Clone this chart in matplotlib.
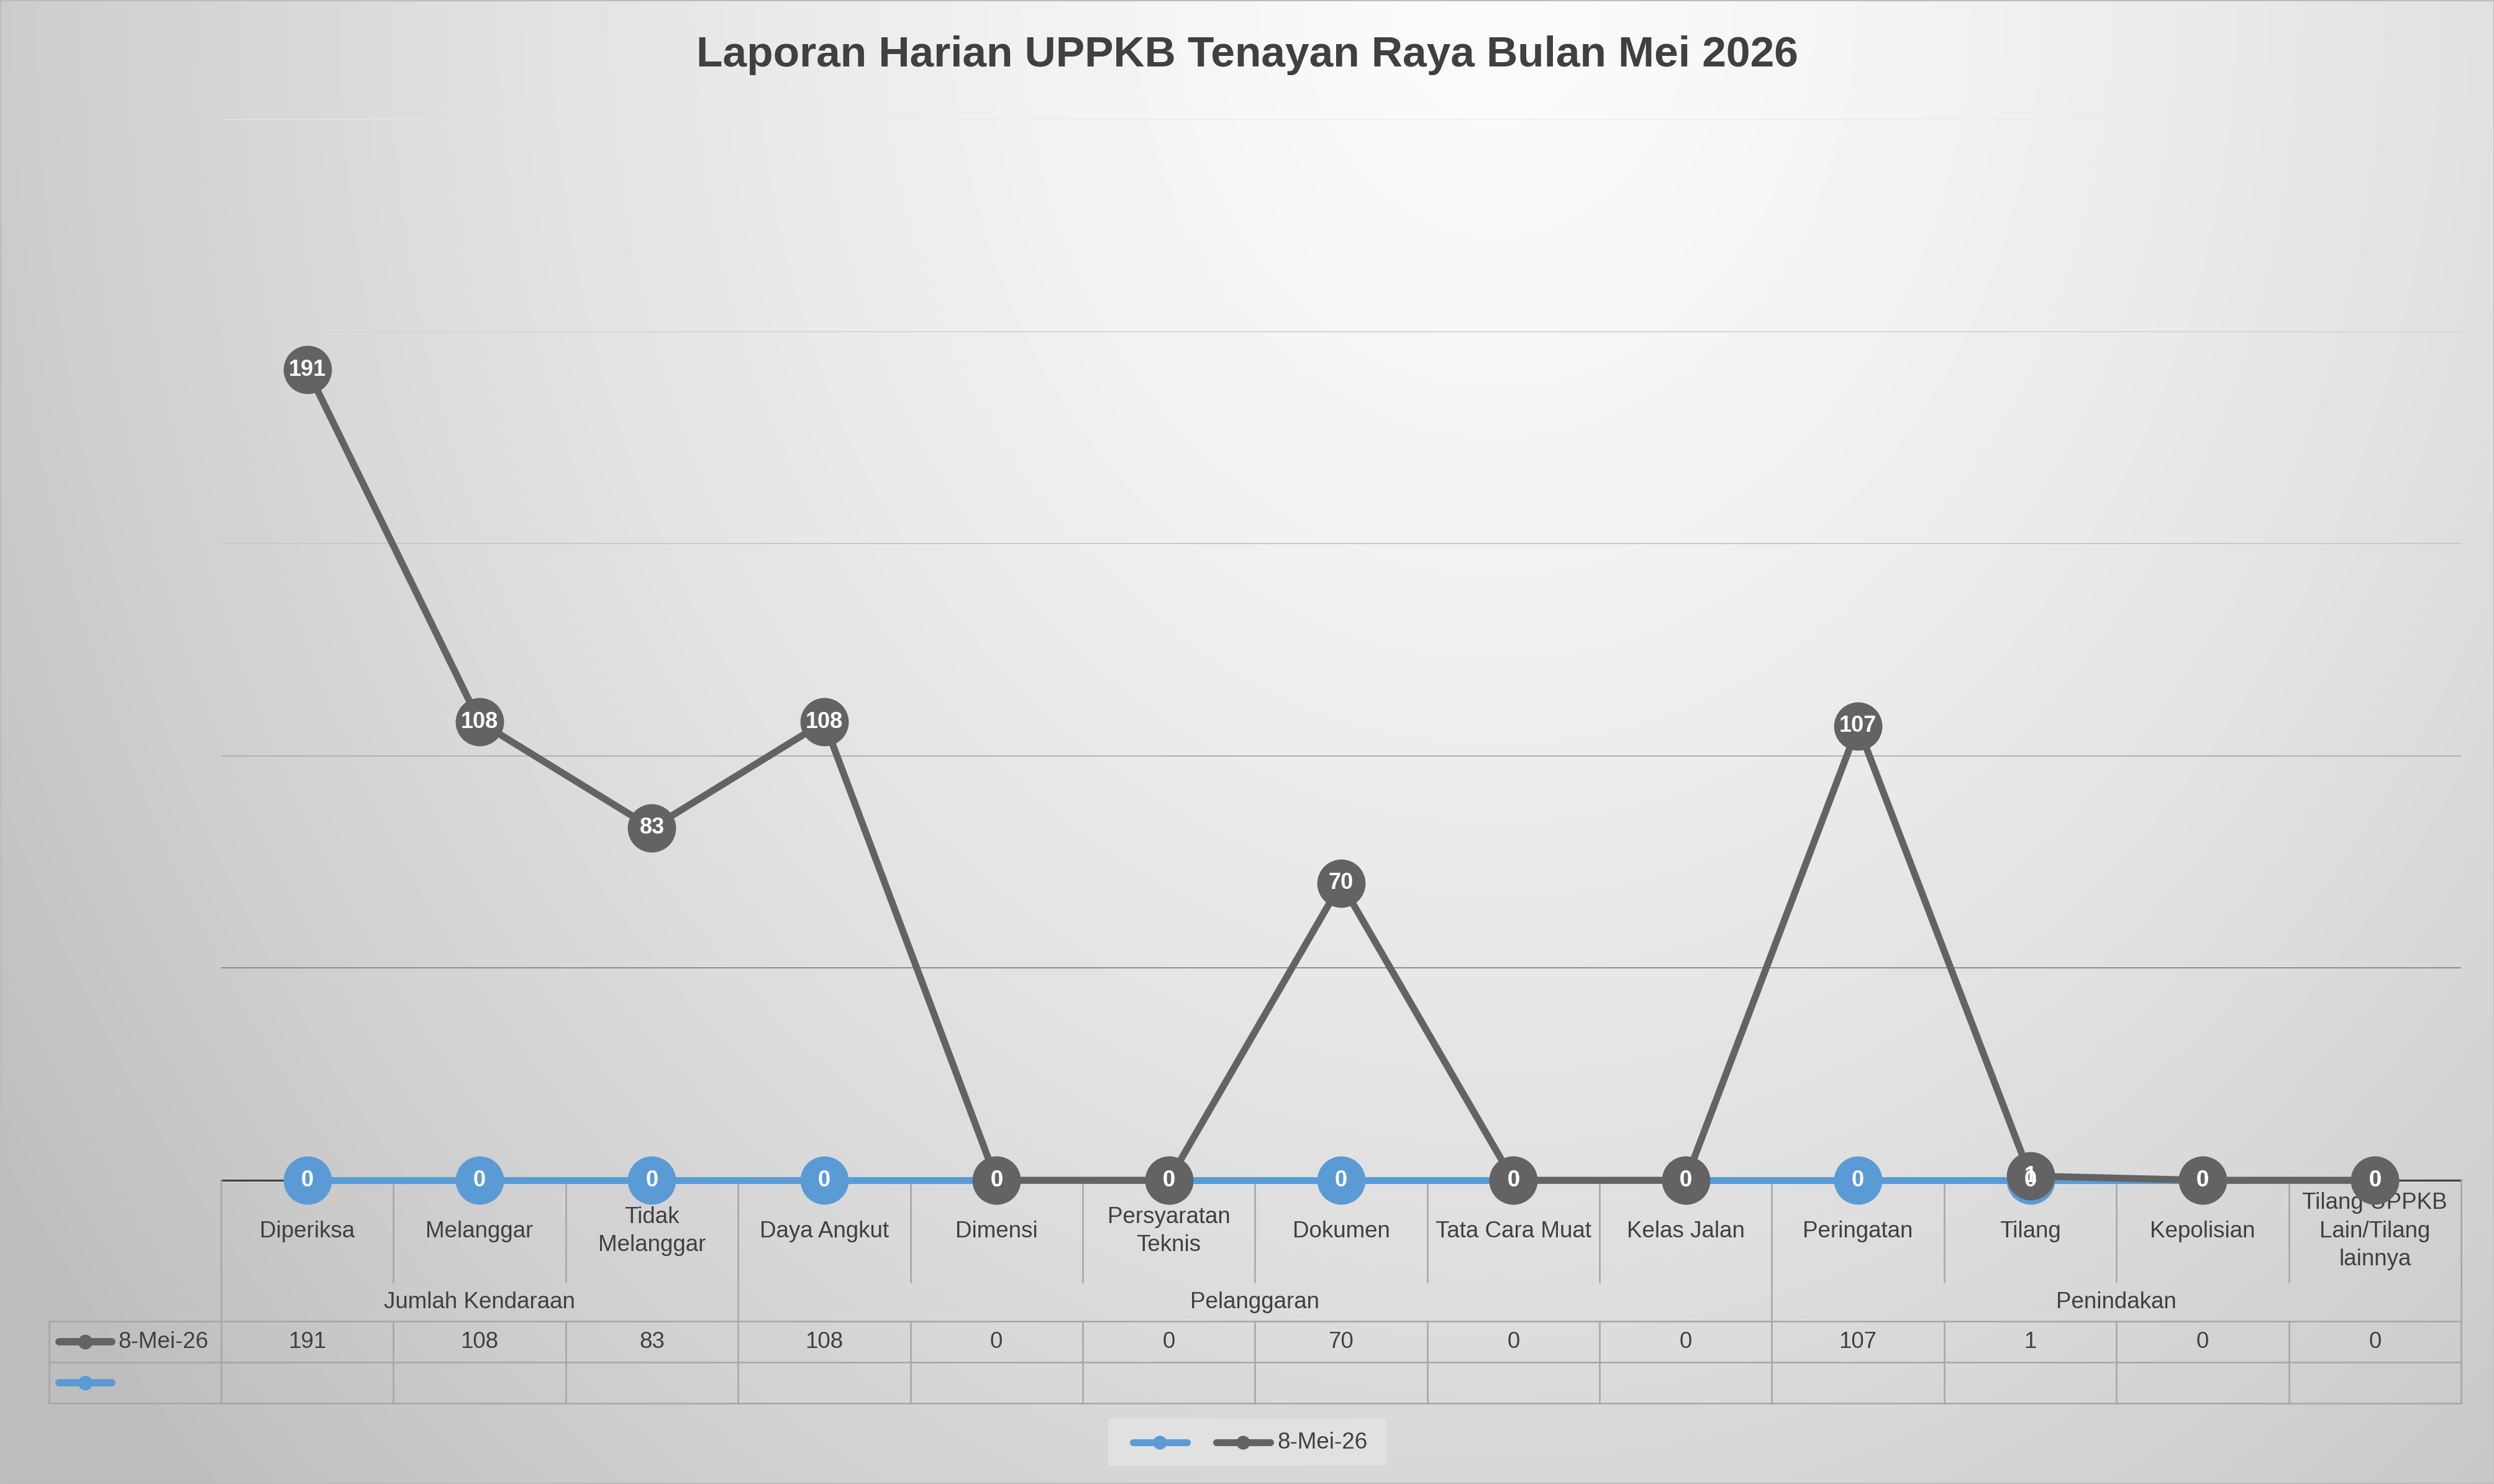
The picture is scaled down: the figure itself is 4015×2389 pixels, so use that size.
import numpy as np
import matplotlib
matplotlib.use("Agg")
import matplotlib.pyplot as plt
from matplotlib.transforms import blended_transform_factory
from matplotlib.lines import Line2D
from matplotlib.patches import Rectangle

# ---------------- data ----------------
title = "Laporan Harian UPPKB Tenayan Raya Bulan Mei 2026"
categories = ["Diperiksa", "Melanggar", "Tidak\nMelanggar", "Daya Angkut", "Dimensi",
              "Persyaratan\nTeknis", "Dokumen", "Tata Cara Muat", "Kelas Jalan",
              "Peringatan", "Tilang", "Kepolisian", "Tilang UPPKB\nLain/Tilang\nlainnya"]
groups = ["Jumlah Kendaraan", "Pelanggaran", "Penindakan"]
group_sizes = [3, 6, 4]
series_name = "8-Mei-26"
series_values = [191, 108, 83, 108, 0, 0, 70, 0, 0, 107, 1, 0, 0]
blank_series_name = ""
blank_series_values = [None, None, None, None, None, None, None, None, None, None, None, None, None]
y_ticks = [0, 50, 100, 150, 200, 250]

# ---------------- style ----------------
W, H = 4016, 2389
GREY = "#636363"
BLUE = "#5B9BD5"
TXT = "#404040"
TABLE = "#a6a6a6"
FONT = "Liberation Sans"
plt.rcParams["font.family"] = [FONT, "DejaVu Sans"]

def fx(p):
    return p / W

def fy(p):
    return 1 - p / H

fig = plt.figure(figsize=(W / 100, H / 100), dpi=100)

# background gradient
bg = fig.add_axes([0, 0, 1, 1], zorder=-10)
yy, xx = np.mgrid[0:1:240j, 0:1:402j]
dx = (xx - 0.6) * W / 2400.0
dy = yy * H / 2900.0
t = np.sqrt(dx ** 2 + dy ** 2)
val = 252 - 28 * t - 20 * t ** 2
val = np.clip(val, 190, 255) / 255.0
bg.imshow(val, cmap="gray", vmin=0, vmax=1, extent=[0, 1, 0, 1], aspect="auto",
          interpolation="bilinear", origin="upper")
bg.axis("off")
fig.add_artist(Rectangle((0, 0), 1, 1, transform=fig.transFigure, fill=False,
                         edgecolor="#bcbcbc", lw=3, zorder=20))

# main axes
ax = fig.add_axes([fx(356), fy(1900), fx(3962) - fx(356), fy(192) - fy(1900)])
ax.set_facecolor("none")
n = len(categories)
x = np.arange(n)
ax.set_xlim(-0.5, n - 0.5)
ax.set_ylim(y_ticks[0], y_ticks[-1])
for s in ax.spines.values():
    s.set_visible(False)
ax.set_xticks([])
ax.set_yticks([])

grid_cols = ["#8c8c8c", "#b0b0b0", "#c8c8c8", "#d6d6d6", "#e8e8e8"]
for yv, c in zip(y_ticks[1:], grid_cols):
    ax.axhline(yv, color=c, lw=1.4, zorder=1)
ax.axhline(0, color="#404040", lw=2.2, zorder=1.5, clip_on=False)

blank_plot = [0 if v is None else v for v in blank_series_values]
ax.plot(x, blank_plot, color=BLUE, lw=8, marker="o", ms=56, mew=0, zorder=3,
        clip_on=False, solid_capstyle="butt")
ax.plot(x, series_values, color=GREY, lw=8, marker="o", ms=56, mew=0, zorder=4,
        clip_on=False, solid_capstyle="butt")
for i, v in enumerate(series_values):
    ax.text(i, v, str(v), ha="center", va="center", color="white", fontsize=26,
            fontweight="bold", zorder=5)
for i, v in enumerate(blank_plot):
    ax.text(i, v, str(v), ha="center", va="center", color="white", fontsize=26,
            fontweight="bold", zorder=6)

# title
fig.text(0.5, fy(89), title, ha="center", va="center", fontsize=50, fontweight="bold",
         color=TXT)

# ---------------- data table ----------------
tr = blended_transform_factory(ax.transData, fig.transFigure)
lw_t = 1.8
y_axis, y_cat, y_grp, y_r1, y_r2 = 1900, 2064, 2127, 2193, 2259
group_bounds = np.cumsum([0] + group_sizes) - 0.5

def vline(xv, p0, p1):
    ax.add_line(Line2D([xv, xv], [fy(p0), fy(p1)], transform=tr, color=TABLE, lw=lw_t,
                       clip_on=False, zorder=2))

def hline(x0, x1, p):
    ax.add_line(Line2D([x0, x1], [fy(p), fy(p)], transform=tr, color=TABLE, lw=lw_t,
                       clip_on=False, zorder=2))

for k in range(n + 1):
    b = k - 0.5
    if b in group_bounds:
        vline(b, y_axis, y_r2)
    else:
        vline(b, y_axis, y_cat)
        vline(b, y_grp, y_r2)
vline(-1.5, y_grp, y_r2)
for p in (y_grp, y_r1, y_r2):
    hline(-1.5, n - 0.5, p)

for i, c in enumerate(categories):
    ax.text(i, fy(1982), c, transform=tr, ha="center", va="center", fontsize=26.5,
            color=TXT, linespacing=1.38, zorder=2.5)
for gi, g in enumerate(groups):
    cx = (group_bounds[gi] + group_bounds[gi + 1]) / 2
    ax.text(cx, fy(2096), g, transform=tr, ha="center", va="center", fontsize=26.5,
            color=TXT)
for i, v in enumerate(series_values):
    ax.text(i, fy(2160), str(v), transform=tr, ha="center", va="center", fontsize=26.5,
            color=TXT)
for i, v in enumerate(blank_series_values):
    if v is not None:
        ax.text(i, fy(2226), str(v), transform=tr, ha="center", va="center",
                fontsize=26.5, color=TXT)

def key(x0, x1, yp, color, lw, ms):
    fig.add_artist(Line2D([fx(x0), fx(x1)], [fy(yp), fy(yp)], transform=fig.transFigure,
                          color=color, lw=lw, solid_capstyle="round", zorder=10))
    fig.add_artist(Line2D([fx((x0 + x1) / 2)], [fy(yp)], transform=fig.transFigure,
                          color=color, marker="o", ms=ms, mew=0, zorder=10))

key(95, 180, 2160, GREY, 8.5, 17)
fig.text(fx(190), fy(2160), series_name, ha="left", va="center", fontsize=26.5, color=TXT)
key(95, 180, 2226, BLUE, 8.5, 17)
fig.text(fx(190), fy(2226), blank_series_name, ha="left", va="center", fontsize=26.5,
         color=TXT)

# ---------------- legend ----------------
fig.add_artist(Rectangle((fx(1784), fy(2359)), fx(2232) - fx(1784), fy(2283) - fy(2359),
                         transform=fig.transFigure, facecolor="#e1e1e1", edgecolor="none",
                         zorder=9))
key(1824, 1911, 2322, BLUE, 8, 16)
key(1958, 2045, 2322, GREY, 8, 16)
fig.text(fx(2056), fy(2322), series_name, ha="left", va="center", fontsize=26.5,
         color=TXT, zorder=11)

fig.savefig("out.png", dpi=100)
